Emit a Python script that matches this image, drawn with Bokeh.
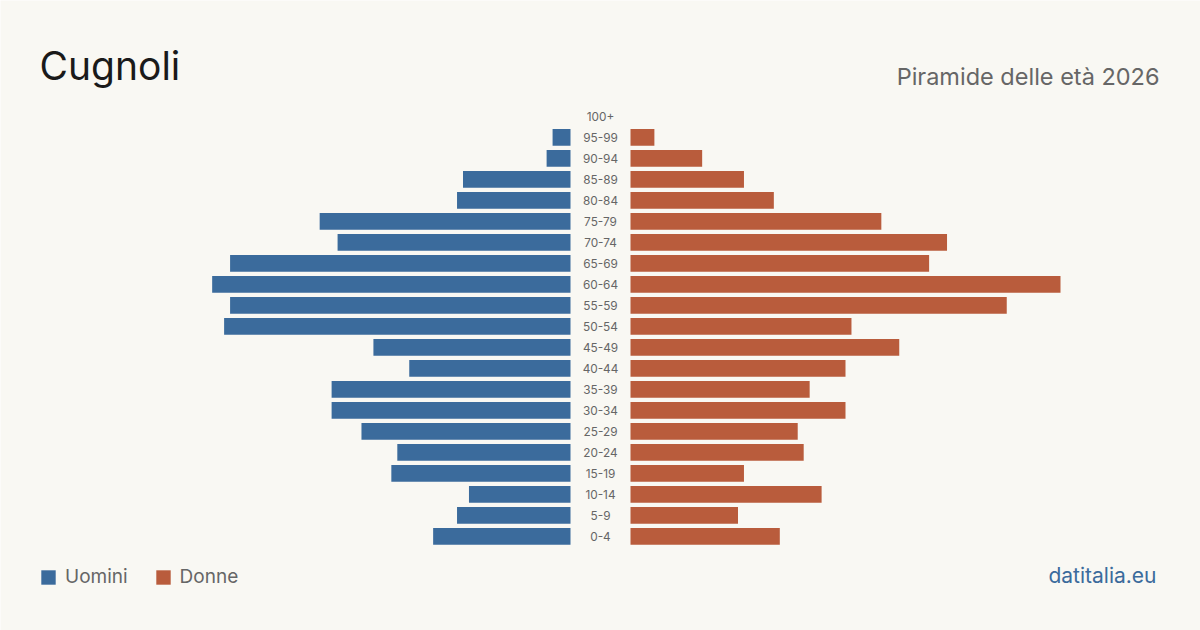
from bokeh.plotting import figure
from bokeh.models import Range1d, Label, Legend, LegendItem, ColumnDataSource
from bokeh.core.properties import value
from bokeh.embed import file_html
from bokeh.resources import INLINE

ages = ["0-4", "5-9", "10-14", "15-19", "20-24", "25-29", "30-34", "35-39", "40-44",
        "45-49", "50-54", "55-59", "60-64", "65-69", "70-74", "75-79", "80-84",
        "85-89", "90-94", "95-99", "100+"]
uomini = [23, 19, 17, 30, 29, 35, 40, 40, 27, 33, 58, 57, 60, 57, 39, 42, 19, 18, 4, 3, 0]
donne = [25, 18, 32, 19, 29, 28, 36, 30, 36, 45, 37, 63, 72, 50, 53, 42, 24, 19, 12, 4, 0]

title = "Cugnoli"
subtitle = "Piramide delle età 2026"
source_txt = "datitalia.eu"

BG = "#f9f8f3"
BLUE = "#3b6b9c"
ORANGE = "#b95c3c"
GRAY = "#666666"
FONT = "Inter"

W, H = 1200, 630
max_bar_px = 430
px_per_unit = max_bar_px / max(max(uomini), max(donne))
half_units = (W / 2) / px_per_unit
gap = 30 / px_per_unit

row_px = 21
center_row0_px = 535.8  # from top
y_top = center_row0_px / row_px
y_bot = (center_row0_px - H) / row_px

p = figure(width=W, height=H, output_backend="svg", toolbar_location=None,
           x_range=Range1d(-half_units, half_units), y_range=Range1d(y_bot, y_top),
           min_border=0, outline_line_color=None)
p.axis.visible = False
p.grid.visible = False
p.background_fill_color = BG
p.border_fill_color = BG

idx = list(range(len(ages)))
src = ColumnDataSource(dict(
    y=idx, age=ages,
    ml=[-gap - v for v in uomini], mr=[-gap] * len(ages),
    fl=[gap] * len(ages), fr=[gap + v for v in donne],
    zero=[0] * len(ages),
))

rm = p.hbar(y="y", left="ml", right="mr", height=0.8, source=src,
            fill_color=BLUE, line_color=None)
rf = p.hbar(y="y", left="fl", right="fr", height=0.8, source=src,
            fill_color=ORANGE, line_color=None)

p.text(x="zero", y="y", text="age", source=src, text_align="center",
       text_baseline="middle", text_font=value(FONT), text_font_size="11.8px",
       text_color=GRAY)

legend = Legend(items=[LegendItem(label="Uomini", renderers=[rm]),
                       LegendItem(label="Donne", renderers=[rf])],
                orientation="horizontal", location=(39, 42),
                padding=0, margin=0, spacing=26, label_standoff=8,
                glyph_width=18, glyph_height=18, label_height=18,
                label_text_font=FONT, label_text_font_size="19px",
                label_text_color=GRAY, border_line_color=None,
                background_fill_alpha=0)
p.add_layout(legend)

p.add_layout(Label(x=39, y=H - 80 + 15, x_units="screen", y_units="screen", text=title,
                   text_font=FONT, text_font_size="39px", text_color="#1a1a1a",
                   text_baseline="alphabetic"))
p.add_layout(Label(x=1159, y=H - 85 + 9, x_units="screen", y_units="screen", text=subtitle,
                   text_font=FONT, text_font_size="23.5px", text_color=GRAY,
                   text_align="right", text_baseline="alphabetic"))
p.add_layout(Label(x=1156, y=H - 583 + 8, x_units="screen", y_units="screen", text=source_txt,
                   text_font=FONT, text_font_size="21px", text_color=BLUE,
                   text_align="right", text_baseline="alphabetic"))

open("out.html", "w").write(file_html(p, INLINE))
